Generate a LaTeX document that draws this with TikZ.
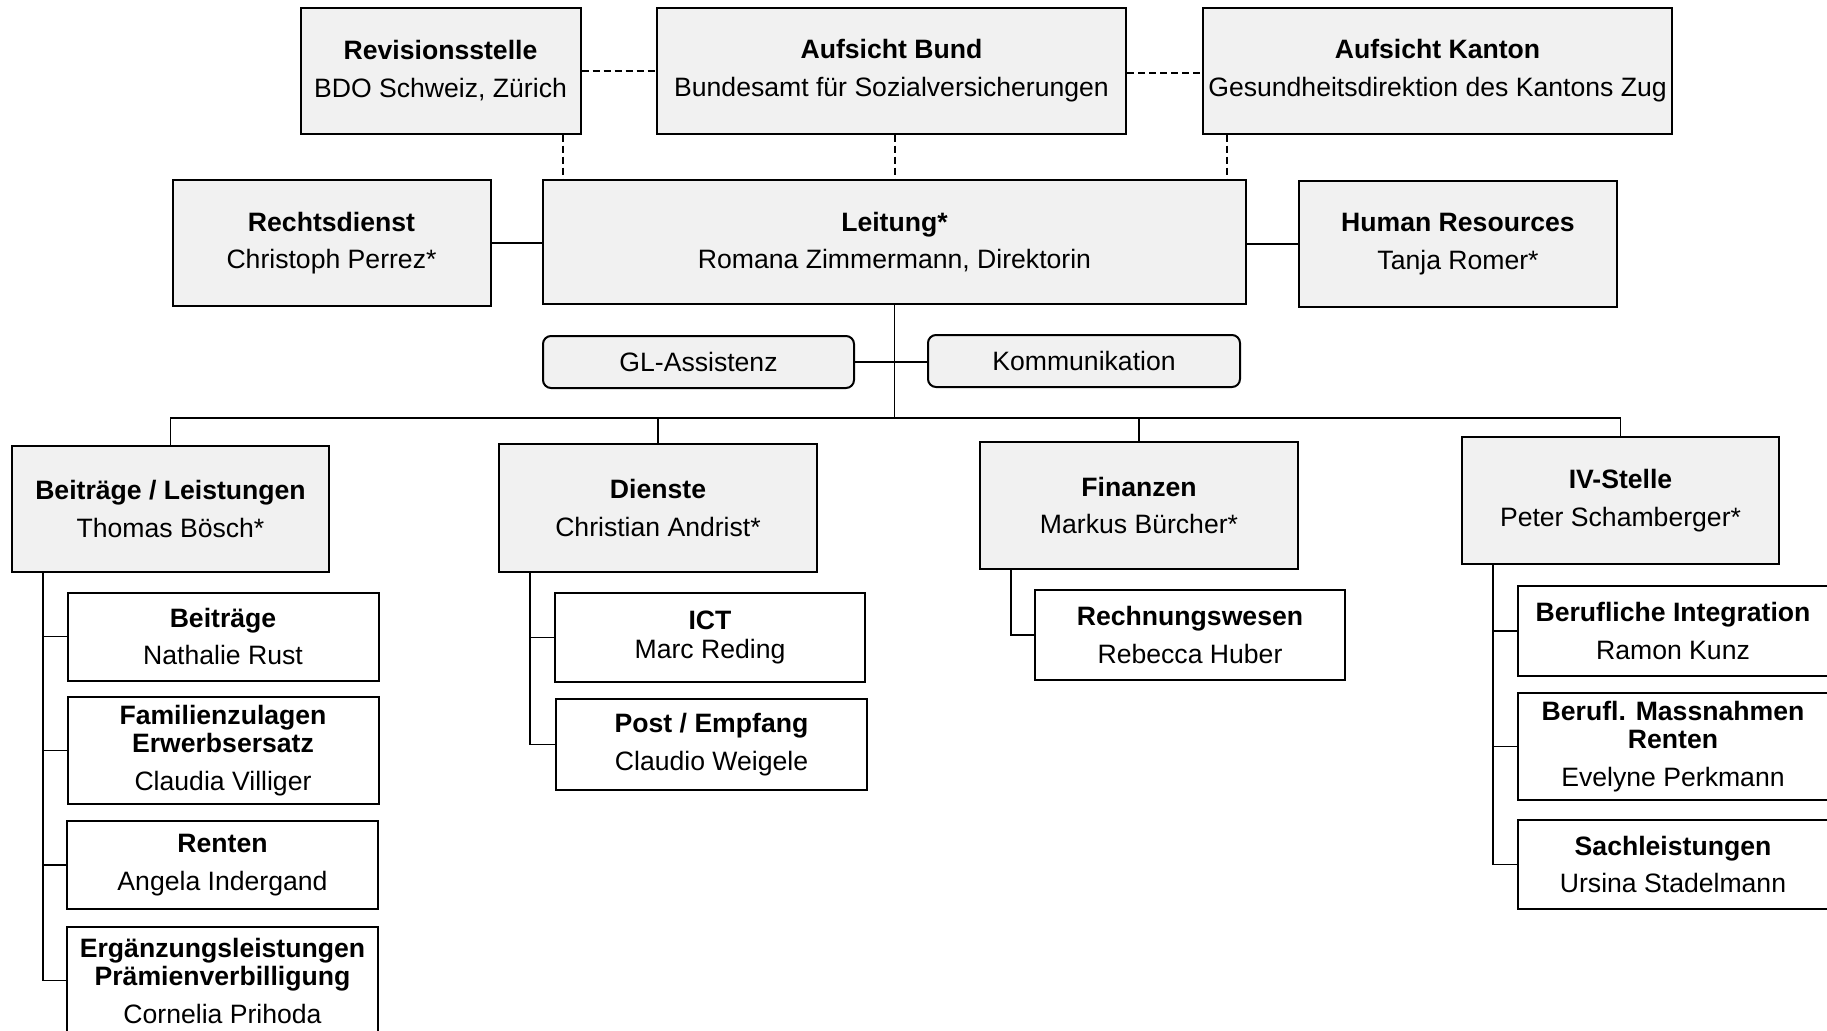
\documentclass[tikz,border=0pt]{standalone}
\usepackage{fontspec}
\setmainfont{Liberation Sans}
\usetikzlibrary{calc,positioning}
\definecolor{boxgray}{RGB}{241,241,241}

\begin{document}
\begin{tikzpicture}[x=0.5pt, y=-0.5pt, line width=0.9pt]
      \tikzset{sz/.style 2 args={minimum width=#1*0.5pt, minimum height=#2*0.5pt}}
      \tikzstyle{unit}=[rectangle,draw,line width=1pt,align=center,inner sep=0pt,fill=boxgray,font=\fontsize{13.3}{14.2}\selectfont]
      \tikzstyle{sub}=[unit,fill=white]
      \tikzstyle{pill}=[unit,rounded corners=4pt]
      \tikzstyle{dashline}=[line width=1pt,dash pattern=on 3.5pt off 2pt]

      \fill[white] (0,0) rectangle (1827,1030);
      \useasboundingbox (0,0) rectangle (1827,1030);

      % supervision
      \node[unit,sz={280}{126}] (rev) at (440.5,70.5) {\textbf{Revisionsstelle}\\[4.6pt]BDO Schweiz, Zürich};
      \node[unit,sz={469}{126}] (bund) at (891.5,70.5) {\textbf{Aufsicht Bund}\\[4.6pt]Bundesamt für Sozialversicherungen};
      \node[unit,sz={469}{126}] (kanton) at (1437.5,70.5) {\textbf{Aufsicht Kanton}\\[4.6pt]Gesundheitsdirektion des Kantons Zug};

      % management
      \node[unit,sz={318}{126}] (recht) at (331.5,243) {\textbf{Rechtsdienst}\\[4.6pt]Christoph Perrez*};
      \node[unit,sz={703}{124}] (leitung) at (894.5,242) {\textbf{Leitung*}\\[4.6pt]Romana Zimmermann, Direktorin};
      \node[unit,sz={318}{126}] (hr) at (1458,244) {\textbf{Human Resources}\\[4.6pt]Tanja Romer*};
      \node[pill,sz={311}{52}] (gl) at (698.5,362) {GL-Assistenz};
      \node[pill,sz={312}{52}] (kom) at (1084,361) {Kommunikation};

      % departments
      \node[unit,sz={317}{126}] (bl) at (170.5,509) {\textbf{Beiträge / Leistungen}\\[4.6pt]Thomas Bösch*};
      \node[unit,sz={318}{128}] (di) at (658,508) {\textbf{Dienste}\\[4.6pt]Christian Andrist*};
      \node[unit,sz={318}{127}] (fi) at (1139,505.5) {\textbf{Finanzen}\\[4.6pt]Markus Bürcher*};
      \node[unit,sz={317}{127}] (iv) at (1620.5,500.5) {\textbf{IV-Stelle}\\[4.6pt]Peter Schamberger*};

      % teams
      \node[sub,sz={311}{88}] (beitr) at (223,636.5) {\textbf{Beiträge}\\[4.6pt]Nathalie Rust};
      \node[sub,sz={311}{107}] (famz) at (223,750.5) {\textbf{Familienzulagen}\\\textbf{Erwerbsersatz}\\[4.6pt]Claudia Villiger};
      \node[sub,sz={311}{88}] (rent) at (222.5,865) {\textbf{Renten}\\[4.6pt]Angela Indergand};
      \node[sub,sz={311}{107}] (erg) at (222.5,980.5) {\textbf{Ergänzungsleistungen}\\\textbf{Prämienverbilligung}\\[4.6pt]Cornelia Prihoda};
      \node[sub,sz={310}{89}] (ict) at (710,637.5) {\textbf{ICT}\\Marc Reding};
      \node[sub,sz={311}{91}] (post) at (711.5,744.5) {\textbf{Post / Empfang}\\[4.6pt]Claudio Weigele};
      \node[sub,sz={310}{90}] (rw) at (1190,635) {\textbf{Rechnungswesen}\\[4.6pt]Rebecca Huber};
      \node[sub,sz={311}{90}] (bi) at (1673,631) {\textbf{Berufliche Integration}\\[4.6pt]Ramon Kunz};
      \node[sub,sz={311}{107}] (bm) at (1673,746.5) {\textbf{Berufl. Massnahmen}\\\textbf{Renten}\\[4.6pt]Evelyne Perkmann};
      \node[sub,sz={311}{89}] (sl) at (1673,864.5) {\textbf{Sachleistungen}\\[4.6pt]Ursina Stadelmann};

      % dashed lines
      \draw[dashline] (rev.east) -- (rev.east -| bund.west);
      \draw[dashline] (bund.east) ++(0,2) -- (kanton.west |- 0,72.5);
      \draw[dashline] ([xshift=-9.5pt]rev.south east) -- ([xshift=-9.5pt]rev.south east |- leitung.north);
      \draw[dashline] (bund.south -| leitung.north) -- (leitung.north);
      \draw[dashline] ([xshift=12.5pt]kanton.south west) -- ([xshift=12.5pt]kanton.south west |- leitung.north);

      % solid lines
      \coordinate (bus) at (894.5,418);
      \draw (recht.east) -- (recht.east -| leitung.west);
      \draw (hr.west) -- (hr.west -| leitung.east);
      \draw (leitung.south) -- (bus);
      \draw (gl.east) -- (gl.east -| kom.west);
      \draw (bl.north) |- (bus) -| (iv.north);
      \draw (di.north) -- (di.north |- bus);
      \draw (fi.north) -- (fi.north |- bus);

      \draw ([xshift=16pt]bl.south west) |- (erg.west);
      \draw (beitr.west) -- ++(-24,0);
      \draw (famz.west) -- ++(-24,0);
      \draw (rent.west) -- ++(-24,0);
      \draw ([xshift=16pt]di.south west) |- (post.west);
      \draw (ict.west) -- ++(-24,0);
      \draw ([xshift=16pt]fi.south west) |- (rw.west);
      \draw ([xshift=16pt]iv.south west) |- (sl.west);
      \draw (bi.west) -- ++(-24,0);
      \draw (bm.west) -- ++(-24,0);
    \end{tikzpicture}
\end{document}
